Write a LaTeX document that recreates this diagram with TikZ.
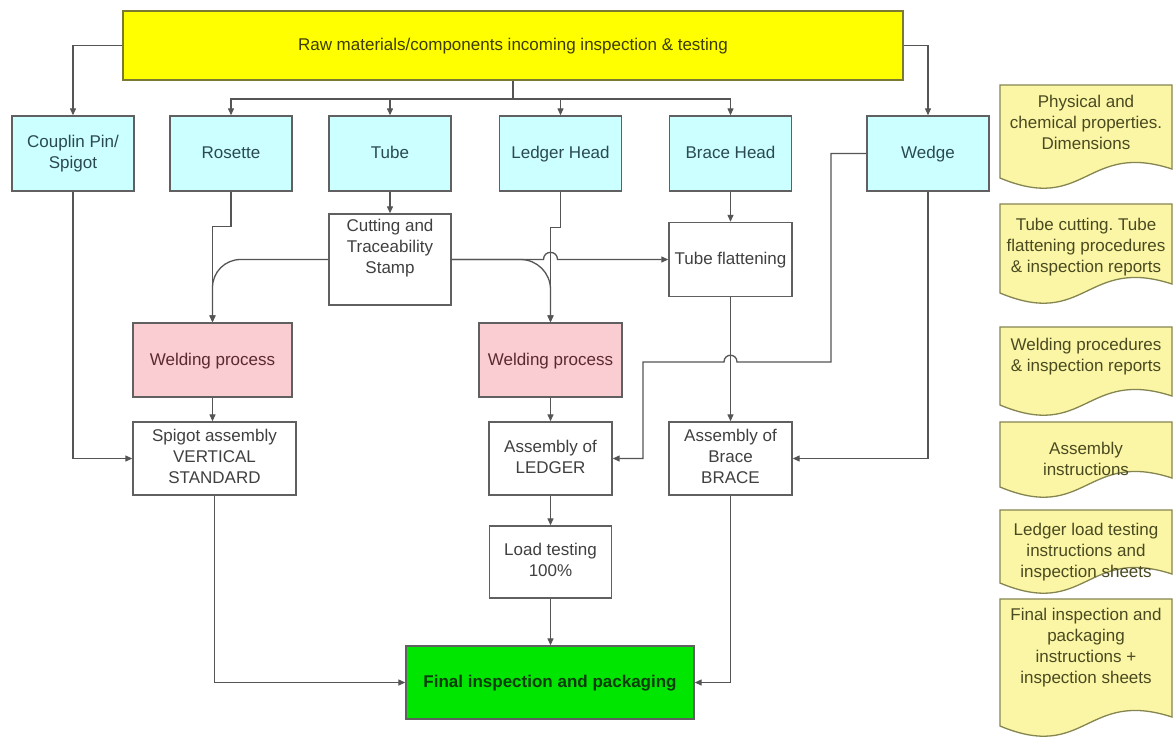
\documentclass[tikz,border=0pt]{standalone}
\usepackage{fontspec}
\setmainfont{Liberation Sans}
\usetikzlibrary{arrows.meta}
\frenchspacing
\definecolor{rawfill}{HTML}{FFFF00}
\definecolor{rawline}{HTML}{7A7A30}
\definecolor{rawtext}{HTML}{3D3D05}
\definecolor{cyanfill}{HTML}{CCFFFF}
\definecolor{cyantext}{HTML}{2A4A50}
\definecolor{weldfill}{HTML}{F9CDD1}
\definecolor{weldtext}{HTML}{5A2A30}
\definecolor{greenfill}{HTML}{00E600}
\definecolor{greentext}{HTML}{0C3C0C}
\definecolor{boxline}{HTML}{606060}
\definecolor{boxtext}{HTML}{404040}
\definecolor{docfill}{HTML}{FBF6A6}
\definecolor{docline}{HTML}{858550}
\definecolor{doctext}{HTML}{4A4A20}
\definecolor{conn}{HTML}{555555}
\newcommand{\mystrut}{\rule[-4pt]{0pt}{18pt}}
\newcommand{\docbox}[5]{%
  \draw[docst] (1000,#2) -- (1172,#2) -- (1172,{#3-9}) .. controls (1086,{#3-37}) and (1086,{#3+36}) .. (1000,#3) -- cycle;
  \node[doctxt] (#1) at (1086,#4) {#5};
}
\begin{document}
\begin{tikzpicture}[x=1pt,y=-1pt,
  wh/.style 2 args={minimum width=#1pt, minimum height=#2pt},
  fnt/.style={font=\fontsize{17}{21}\selectfont, execute at begin node=\mystrut, execute at end node=\mystrut},
  base/.style={draw=boxline, line width=1.4pt, align=center, inner sep=0pt, fnt, text=boxtext},
  wbox/.style={base, fill=white},
  cbox/.style={base, fill=cyanfill, text=cyantext, wh={122}{75}},
  weldbox/.style={base, fill=weldfill, text=weldtext},
  txt/.style={inner sep=0pt, align=center, fnt, text=boxtext},
  docst/.style={draw=docline, fill=docfill, line width=1.3pt},
  doctxt/.style={inner sep=0pt, align=center, fnt, text=doctext},
  line/.style={draw=conn, line width=1.3pt},
  arr/.style={line, -{Triangle[length=7pt,width=6pt]}},
]
\useasboundingbox (0,0) rectangle (1173,740);
\fill[white] (0,0) rectangle (1173,740);

% top box
\node[base, fill=rawfill, draw=rawline, text=rawtext, wh={780}{69}] (raw) at (513,45.5)
  {Raw materials/components incoming inspection \& testing};

% component boxes
\node[cbox] (coup)  at (73,153.5)    {Couplin Pin/\\Spigot};
\node[cbox] (ros)   at (231,153.5)   {Rosette};
\node[cbox] (tube)  at (390,153.5)   {Tube};
\node[cbox] (lhead) at (560.5,153.5) {Ledger Head};
\node[cbox] (bhead) at (730.5,153.5) {Brace Head};
\node[cbox] (wedge) at (928,153.5)   {Wedge};

% process boxes
\node[wbox, wh={122}{91}] (cut) at (390,259.5) {};
\node[txt] (cuttxt) at (390,248) {Cutting and\\Traceability\\Stamp};
\node[wbox, wh={123}{74}] (tflat) at (730.5,259.5) {Tube flattening};
\node[weldbox, wh={159}{74}] (weld1) at (212.5,360) {Welding process};
\node[weldbox, wh={143}{74}] (weld2) at (550.5,360) {Welding process};
\node[wbox, wh={163}{73}] (spig) at (214.5,458.5) {Spigot assembly\\VERTICAL\\STANDARD};
\node[wbox, wh={123}{73}] (aled) at (550.5,458.5) {Assembly of\\LEDGER};
\node[wbox, wh={123}{73}] (abr) at (730.5,458.5) {Assembly of\\Brace\\BRACE};
\node[wbox, wh={122}{72}] (load) at (550.5,562) {Load testing\\100\%};
\node[base, fill=greenfill, text=greentext, wh={288}{73}, font=\fontsize{17}{21}\selectfont\bfseries] (final) at (550,682.5)
  {Final inspection and packaging};

% connectors from top box
\coordinate (dist) at (513,99);
\draw[line] (raw.south) -- (dist);
\draw[arr] (dist) -| (ros.north);
\draw[arr] (dist) -| (tube.north);
\draw[arr] (dist) -| (lhead.north);
\draw[arr] (dist) -| (bhead.north);
\draw[arr] (raw.west) -| (coup.north);
\draw[arr] (raw.east) -| (wedge.north);

% middle connectors
\draw[arr] (tube.south) -- (cut.north);
\draw[arr] (ros.south) -- ++(0,35) -| (weld1.north);
\draw[arr] (lhead.south) -- ++(0,36) -| (weld2.north);
\draw[arr, rounded corners=28pt] (cut.west) -| (weld1.north);
\draw[arr, rounded corners=30pt] (cut.east) -| (weld2.north);
\draw[arr] (cut.east) -- (543.5,259.5) .. controls (543.5,250) and (557.5,250) .. (557.5,259.5) -- (tflat.west);
\draw[arr] (bhead.south) -- (tflat.north);
\draw[arr] (tflat.south) -- (abr.north);
\draw[arr] (wedge.west) -- (831,153.5) -- (831,362) -- (737,362)
  .. controls (737,353) and (724,353) .. (724,362) -- (643,362) |- (aled.east);
\draw[arr] (wedge.south) |- (abr.east);
\draw[arr] (coup.south) |- (spig.west);
\draw[arr] (weld1.south) -- (weld1.south |- spig.north);
\draw[arr] (weld2.south) -- (aled.north);
\draw[arr] (aled.south) -- (load.north);
\draw[arr] (load.south) -- (load.south |- final.north);
\draw[arr] (spig.south) |- (final.west);
\draw[arr] (abr.south) |- (final.east);

% documents
\docbox{doc1}{85}{178}{124}{Physical and\\chemical properties.\\Dimensions}
\docbox{doc2}{204}{293}{247}{Tube cutting. Tube\\flattening procedures\\\& inspection reports}
\docbox{doc3}{327}{405}{357}{Welding procedures\\\& inspection reports}
\docbox{doc4}{422}{487}{461}{Assembly\\instructions}
\docbox{doc5}{510}{583}{552}{Ledger load testing\\instructions and\\inspection sheets}
\docbox{doc6}{599}{726}{648}{Final inspection and\\packaging\\instructions +\\inspection sheets}
\end{tikzpicture}
\end{document}
